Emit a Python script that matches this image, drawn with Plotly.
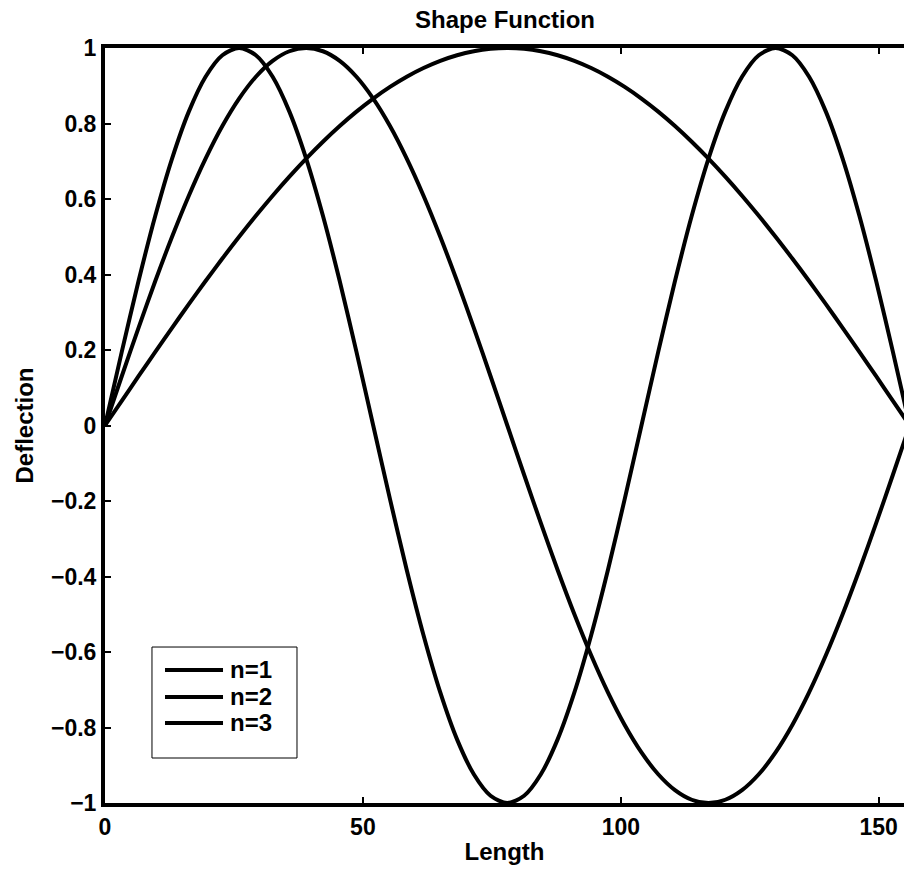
import plotly.graph_objects as go

# Positions along the length (0..156)
length = [0, 3.25, 6.5, 9.75, 13, 16.25, 19.5, 22.75, 26, 29.25, 32.5, 35.75, 39,
          42.25, 45.5, 48.75, 52, 55.25, 58.5, 61.75, 65, 68.25, 71.5, 74.75, 78,
          81.25, 84.5, 87.75, 91, 94.25, 97.5, 100.75, 104, 107.25, 110.5, 113.75, 117,
          120.25, 123.5, 126.75, 130, 133.25, 136.5, 139.75, 143, 146.25, 149.5, 152.75, 156]

# Deflections
n1 = [0, 0.0654, 0.1305, 0.1951, 0.2588, 0.3214, 0.3827, 0.4423, 0.5, 0.5556, 0.6088, 0.6593,
      0.7071, 0.7518, 0.7934, 0.8315, 0.8660, 0.8969, 0.9239, 0.9469, 0.9659, 0.9808, 0.9914,
      0.9979, 1.0, 0.9979, 0.9914, 0.9808, 0.9659, 0.9469, 0.9239, 0.8969, 0.8660, 0.8315,
      0.7934, 0.7518, 0.7071, 0.6593, 0.6088, 0.5556, 0.5, 0.4423, 0.3827, 0.3214, 0.2588,
      0.1951, 0.1305, 0.0654, 0]
n2 = [0, 0.1305, 0.2588, 0.3827, 0.5, 0.6088, 0.7071, 0.7934, 0.8660, 0.9239, 0.9659, 0.9914,
      1.0, 0.9914, 0.9659, 0.9239, 0.8660, 0.7934, 0.7071, 0.6088, 0.5, 0.3827, 0.2588, 0.1305,
      0, -0.1305, -0.2588, -0.3827, -0.5, -0.6088, -0.7071, -0.7934, -0.8660, -0.9239, -0.9659,
      -0.9914, -1.0, -0.9914, -0.9659, -0.9239, -0.8660, -0.7934, -0.7071, -0.6088, -0.5,
      -0.3827, -0.2588, -0.1305, 0]
n3 = [0, 0.1951, 0.3827, 0.5556, 0.7071, 0.8315, 0.9239, 0.9808, 1.0, 0.9808, 0.9239, 0.8315,
      0.7071, 0.5556, 0.3827, 0.1951, 0, -0.1951, -0.3827, -0.5556, -0.7071, -0.8315, -0.9239,
      -0.9808, -1.0, -0.9808, -0.9239, -0.8315, -0.7071, -0.5556, -0.3827, -0.1951, 0, 0.1951,
      0.3827, 0.5556, 0.7071, 0.8315, 0.9239, 0.9808, 1.0, 0.9808, 0.9239, 0.8315, 0.7071,
      0.5556, 0.3827, 0.1951, 0]

names = ["n=1", "n=2", "n=3"]
series = [n1, n2, n3]

x_ticks = [0, 50, 100, 150]
y_ticks = [-1, -0.8, -0.6, -0.4, -0.2, 0, 0.2, 0.4, 0.6, 0.8, 1]
y_labels = ["−1", "−0.8", "−0.6", "−0.4", "−0.2", "0", "0.2", "0.4", "0.6", "0.8", "1"]

FONT = "Liberation Sans"
TICK = 23

fig = go.Figure()
for name, vals in zip(names, series):
    fig.add_trace(go.Scatter(
        x=length, y=vals, mode="lines", name=name, showlegend=False,
        line=dict(color="black", width=4, shape="spline", smoothing=0.8),
    ))

# Legend box drawn in paper coordinates (boxed MATLAB-style legend)
shapes = [dict(type="rect", xref="paper", yref="paper", x0=0.0588, x1=0.2403,
               y0=0.0596, y1=0.2066, line=dict(color="black", width=1),
               fillcolor="white", layer="above")]
annotations = []
row_y = [0.1762, 0.1404, 0.1060]
for name, yy in zip(names, row_y):
    shapes.append(dict(type="line", xref="paper", yref="paper", x0=0.0751, x1=0.1477,
                       y0=yy, y1=yy, line=dict(color="black", width=4), layer="above"))
    annotations.append(dict(xref="paper", yref="paper", x=0.1539, y=yy, xanchor="left",
                            yanchor="middle", showarrow=False, text=f"<b>{name}</b>",
                            font=dict(family=FONT, size=24, color="black")))

fig.update_layout(
    width=904, height=871,
    margin=dict(l=105, r=0, t=48, b=68),
    paper_bgcolor="white", plot_bgcolor="white",
    font=dict(family=FONT, size=TICK, color="black"),
    title=dict(text="<b>Shape Function</b>", x=0.5586, xanchor="center",
               y=0.977, yanchor="middle", font=dict(family=FONT, size=24)),
    showlegend=False,
    shapes=shapes,
    annotations=annotations,
)

fig.update_xaxes(
    range=[0, 154.9], tickvals=x_ticks, ticktext=[f"<b>{v}</b>" for v in x_ticks],
    showgrid=False, zeroline=False, showline=True, linecolor="black", linewidth=4,
    mirror="ticks", ticks="inside", ticklen=6, tickwidth=2, tickcolor="black",
    title=dict(text="<b>Length</b>", standoff=6, font=dict(family=FONT, size=24)),
    tickfont=dict(family=FONT, size=TICK),
)
fig.update_yaxes(
    range=[-1, 1], tickvals=y_ticks, ticktext=[f"<b>{t}</b>" for t in y_labels],
    showgrid=False, zeroline=False, showline=True, linecolor="black", linewidth=4,
    ticks="inside", ticklen=6, tickwidth=2, tickcolor="black",
    title=dict(text="<b>Deflection</b>", standoff=12, font=dict(family=FONT, size=24)),
    tickfont=dict(family=FONT, size=TICK),
)

fig.write_html("out.html")
